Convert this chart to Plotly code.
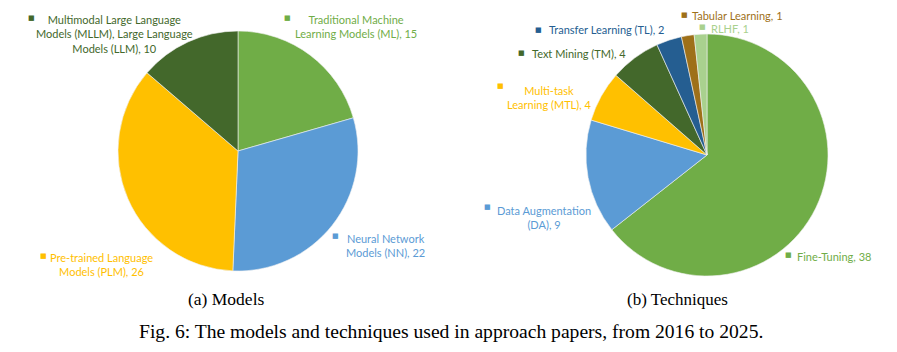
import plotly.graph_objects as go

# Models pie
model_labels = ["Traditional Machine<br>Learning Models (ML)", "Neural Network<br>Models (NN)",
                "Pre-trained Language<br>Models (PLM)",
                "Multimodal Large Language<br>Models (MLLM), Large Language<br>Models (LLM)"]
model_values = [15, 22, 26, 10]
model_colors = ["#70AD47", "#5B9BD5", "#FFC000", "#43682B"]

# Techniques pie
tech_labels = ["Fine-Tuning", "Data Augmentation<br>(DA)", "Multi-task<br>Learning (MTL)",
               "Text Mining (TM)", "Transfer Learning (TL)", "Tabular Learning", "RLHF"]
tech_values = [38, 9, 4, 4, 2, 1, 1]
tech_colors = ["#70AD47", "#5B9BD5", "#FFC000", "#43682B", "#255E91", "#9E7019", "#A9D18E"]

W, H = 897, 352

def px(x):
    return x / W

def py(y):
    return 1 - y / H

fig = go.Figure()
fig.add_trace(go.Pie(values=model_values, labels=model_labels, marker=dict(colors=model_colors, line=dict(color="#f2f2f2", width=0.6)),
                     sort=False, direction="clockwise", textinfo="none", hoverinfo="label+value",
                     domain=dict(x=[px(118), px(358)], y=[py(271), py(31)]), showlegend=False))
fig.add_trace(go.Pie(values=tech_values, labels=tech_labels, marker=dict(colors=tech_colors, line=dict(color="#f2f2f2", width=0.6)),
                     sort=False, direction="clockwise", textinfo="none", hoverinfo="label+value",
                     domain=dict(x=[px(586), px(828)], y=[py(276), py(34)]), showlegend=False))

FONT = "Lato"
FS = 11

def label(text, value, color, tx, ty, mx, my, anchor="center"):
    fig.add_annotation(x=px(tx), y=py(ty), xref="paper", yref="paper", text=f"{text}, {value}",
                       showarrow=False, xanchor=anchor, yanchor="middle", align="center",
                       font=dict(family=FONT, size=FS, color=color))
    fig.add_annotation(x=px(mx), y=py(my), xref="paper", yref="paper", text="■", showarrow=False,
                       xanchor="center", yanchor="middle", font=dict(family="DejaVu Sans", size=7, color=color))

# model labels: (text center x, center y, marker x, marker y)
model_pos = [(356, 27, 287, 18, "center"), (385, 245, 335, 236, "center"),
             (101, 264, 43, 256, "center"), (114, 34, 31, 18, "center")]
for lab, val, col, p in zip(model_labels, model_values, model_colors, model_pos):
    label(lab, val, col, p[0], p[1], p[2], p[3], p[4])

tech_pos = [(795, 256, 788, 255, "left"), (544, 218, 487, 207, "center"), (549, 97, 500, 86, "center"),
            (530, 53, 521, 53, "left"), (547, 30, 538, 30, "left"), (690, 16, 684, 15, "left"),
            (709, 28, 702, 27, "left")]
for lab, val, col, p in zip(tech_labels, tech_values, tech_colors, tech_pos):
    label(lab, val, col, p[0], p[1], p[2], p[3], p[4])

# captions
for txt, x, y, s in [("(a) Models", 226, 299, 17.5), ("(b) Techniques", 677, 299, 17),
                     ("Fig. 6: The models and techniques used in approach papers, from 2016 to 2025.", 451, 331, 19.6)]:
    fig.add_annotation(x=px(x), y=py(y), xref="paper", yref="paper", text=txt, showarrow=False,
                       xanchor="center", yanchor="middle", font=dict(family="Liberation Serif", size=s, color="#000"))

fig.update_layout(width=W, height=H, margin=dict(l=0, r=0, t=0, b=0), paper_bgcolor="white",
                  plot_bgcolor="white")
fig.write_html("out.html")
